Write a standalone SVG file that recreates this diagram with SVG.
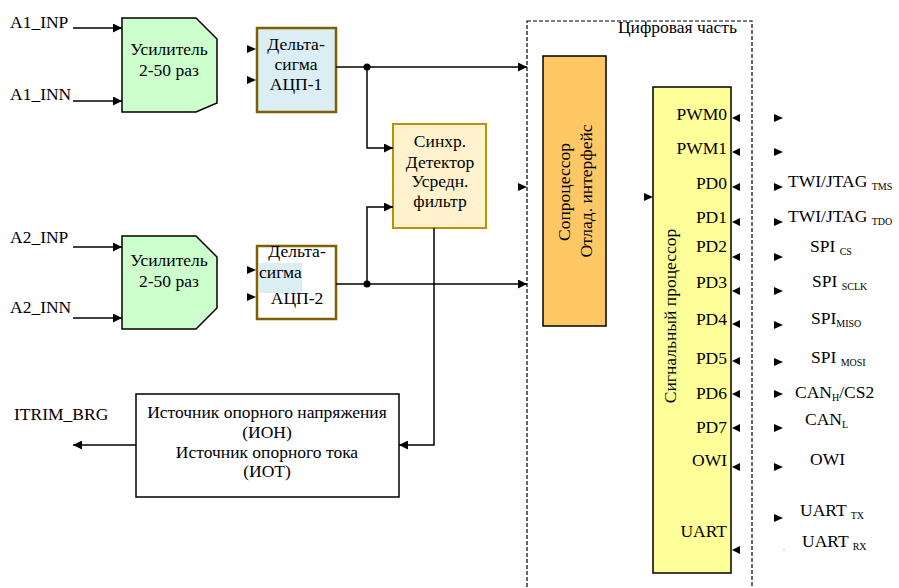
<svg xmlns="http://www.w3.org/2000/svg" xmlns:xlink="http://www.w3.org/1999/xlink" width="899" height="588" viewBox="0 0 899 588">
<style>
text{font-family:"Liberation Serif","Times New Roman",serif;font-size:17.5px;fill:#000}
.c{text-anchor:middle}
.r{text-anchor:end}
.sub{font-size:10px}
.ln{fill:none;stroke:#000;stroke-width:1.5}
.ah{fill:#000}
</style>
<defs>
<marker id="arr" viewBox="0 0 10 10" refX="10" refY="5" markerWidth="10" markerHeight="9" markerUnits="userSpaceOnUse" orient="auto"><path d="M0,0 L10,5 L0,10 z" fill="#000"/></marker>
<path id="tr" d="M0,-4 L9,0 L0,4 z"/>
<path id="tl" d="M0,0 L8,-4 L8,4 z"/>
</defs>
<rect width="899" height="588" fill="#fff"/>

<g id="digital-part">
<rect x="527" y="21" width="225" height="580" fill="none" stroke="#000" stroke-width="1.2" stroke-dasharray="4,2"/>
<text x="737" y="33" class="r">Цифровая часть</text>
</g>

<g id="amp1">
<path d="M122,18 L196,18 L217,39 L217,103 L196,112 L122,112 z" fill="#ccffcc" stroke="#000" stroke-width="1.5"/>
<text x="169" y="55" class="c">Усилитель</text>
<text x="169" y="76" class="c">2-50 раз</text>
</g>
<g id="amp2">
<path d="M122,236 L196,236 L217,257 L217,308 L196,329 L122,329 z" fill="#ccffcc" stroke="#000" stroke-width="1.5"/>
<text x="169" y="266" class="c">Усилитель</text>
<text x="169" y="287" class="c">2-50 раз</text>
</g>
<g id="labels-in">
<text x="10" y="28">A1_INP</text>
<text x="10" y="100">A1_INN</text>
<text x="10" y="243">A2_INP</text>
<text x="10" y="313">A2_INN</text>
<text x="14" y="420">ITRIM_BRG</text>
</g>

<g id="adc1">
<rect x="257" y="28" width="79" height="84" fill="#dbeef4" stroke="#7f6000" stroke-width="2.5"/>
<text x="296" y="50" class="c">Дельта-</text>
<text x="296" y="70" class="c">сигма</text>
<text x="296" y="90" class="c">АЦП-1</text>
</g>
<g id="adc2">
<rect x="257" y="246" width="79" height="73" fill="#fff" stroke="#7f6000" stroke-width="2.5"/>
<rect x="259" y="263" width="43" height="30" fill="#dbeef4"/>
<text x="297" y="257" class="c">Дельта-</text>
<text x="259" y="278">сигма</text>
<text x="297" y="304" class="c">АЦП-2</text>
</g>

<g id="detector">
<rect x="393" y="124" width="93" height="104" fill="#fff2cc" stroke="#bf9000" stroke-width="2"/>
<text x="440" y="147" class="c">Синхр.</text>
<text x="440" y="168" class="c">Детектор</text>
<text x="440" y="187" class="c">Усредн.</text>
<text x="440" y="207" class="c">фильтр</text>
</g>

<g id="reference">
<rect x="136" y="394" width="263" height="103" fill="#fff" stroke="#000" stroke-width="1.5"/>
<text x="267" y="418" class="c">Источник опорного напряжения</text>
<text x="267" y="438" class="c">(ИОН)</text>
<text x="267" y="458" class="c">Источник опорного тока</text>
<text x="267" y="477" class="c">(ИОТ)</text>
</g>

<g id="coprocessor">
<rect x="543" y="56" width="63" height="270" fill="#ffc864" stroke="#000" stroke-width="1.5"/>
<text transform="translate(570,192) rotate(-90)" class="c">Сопроцессор</text>
<text transform="translate(592,191) rotate(-90)" class="c">Отлад. интерфейс</text>
</g>

<g id="dsp">
<rect x="653" y="87" width="78" height="486" fill="#ffff99" stroke="#000" stroke-width="1.5"/>
<text transform="translate(676,316) rotate(-90)" class="c">Сигнальный процессор</text>
<text x="727" y="120" class="r">PWM0</text>
<text x="727" y="154" class="r">PWM1</text>
<text x="727" y="189" class="r">PD0</text>
<text x="727" y="223" class="r">PD1</text>
<text x="727" y="252" class="r">PD2</text>
<text x="727" y="288" class="r">PD3</text>
<text x="727" y="325" class="r">PD4</text>
<text x="727" y="364" class="r">PD5</text>
<text x="727" y="399" class="r">PD6</text>
<text x="727" y="433" class="r">PD7</text>
<text x="727" y="466" class="r">OWI</text>
<text x="727" y="537" class="r">UART</text>
</g>

<g id="labels-out">
<text x="788" y="187">TWI/JTAG <tspan class="sub" dy="3">TMS</tspan></text>
<text x="788" y="222">TWI/JTAG <tspan class="sub" dy="3">TDO</tspan></text>
<text x="810" y="252">SPI <tspan class="sub" dy="3">CS</tspan></text>
<text x="812" y="287">SPI <tspan class="sub" dy="3">SCLK</tspan></text>
<text x="811" y="324">SPI<tspan class="sub" dy="3">MISO</tspan></text>
<text x="811" y="363">SPI <tspan class="sub" dy="3">MOSI</tspan></text>
<text x="795" y="398">CAN<tspan class="sub" dy="3">H</tspan><tspan dy="-3">/CS2</tspan></text>
<text x="805" y="425">CAN<tspan class="sub" dy="3">L</tspan></text>
<text x="810" y="465">OWI</text>
<text x="800" y="516">UART <tspan class="sub" dy="3">TX</tspan></text>
<text x="802" y="547">UART <tspan class="sub" dy="3">RX</tspan></text>
</g>

<g id="connectors">
<path class="ln" d="M73,28 H122" marker-end="url(#arr)"/>
<path class="ln" d="M73,101 H122" marker-end="url(#arr)"/>
<path class="ln" d="M73,247 H122" marker-end="url(#arr)"/>
<path class="ln" d="M73,318 H122" marker-end="url(#arr)"/>
<path class="ln" d="M336,67 H527" marker-end="url(#arr)"/>
<path class="ln" d="M336,284 H527" marker-end="url(#arr)"/>
<path class="ln" d="M367,67 V148 H393" marker-end="url(#arr)"/>
<path class="ln" d="M367,284 V207 H393" marker-end="url(#arr)"/>
<path class="ln" d="M434,228 V445 H399" marker-end="url(#arr)"/>
<path class="ln" d="M136,445 H73" marker-end="url(#arr)"/>
<circle cx="367" cy="67" r="3.5" fill="#000"/>
<circle cx="367" cy="284" r="3.5" fill="#000"/>
<g class="ah">
<use xlink:href="#tr" x="247" y="49"/>
<use xlink:href="#tr" x="247" y="80"/>
<use xlink:href="#tr" x="247" y="270"/>
<use xlink:href="#tr" x="247" y="297"/>
<use xlink:href="#tr" x="518" y="187"/>
<use xlink:href="#tr" x="644" y="197"/>
<use xlink:href="#tl" x="732" y="118"/>
<use xlink:href="#tl" x="732" y="152"/>
<use xlink:href="#tl" x="732" y="187"/>
<use xlink:href="#tl" x="732" y="222"/>
<use xlink:href="#tl" x="732" y="257"/>
<use xlink:href="#tl" x="732" y="291"/>
<use xlink:href="#tl" x="732" y="324"/>
<use xlink:href="#tl" x="732" y="361"/>
<use xlink:href="#tl" x="732" y="394"/>
<use xlink:href="#tl" x="732" y="428"/>
<use xlink:href="#tl" x="732" y="467"/>
<use xlink:href="#tl" x="732" y="550"/>
<use xlink:href="#tr" x="774" y="118"/>
<use xlink:href="#tr" x="774" y="152"/>
<use xlink:href="#tr" x="774" y="187"/>
<use xlink:href="#tr" x="774" y="222"/>
<use xlink:href="#tr" x="774" y="257"/>
<use xlink:href="#tr" x="774" y="291"/>
<use xlink:href="#tr" x="774" y="325"/>
<use xlink:href="#tr" x="774" y="362"/>
<use xlink:href="#tr" x="774" y="394"/>
<use xlink:href="#tr" x="774" y="428"/>
<use xlink:href="#tr" x="774" y="467"/>
<use xlink:href="#tr" x="774" y="518"/>
<rect x="783.5" y="549.5" width="1" height="1" fill="#888"/>
</g>
</g>
</svg>
